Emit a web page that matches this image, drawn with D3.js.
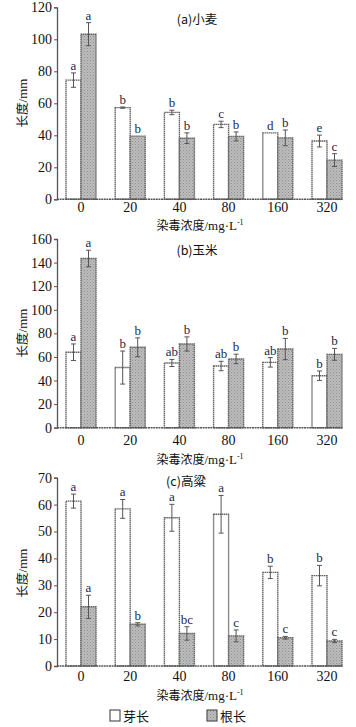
<!DOCTYPE html>
<html><head><meta charset="utf-8">
<script src="https://cdn.jsdelivr.net/npm/d3@7"></script>
<style>body{margin:0;background:#fff;}svg{display:block;}</style>
</head><body>
<script>
const categories = ["0","20","40","80","160","320"];
const seriesNames = ["芽长","根长"];
// Panel (a) 小麦
const wheatShoot = [74.5, 57.3, 54.3, 46.8, 41.5, 36.4];
const wheatShootErr = [4.5, 0.4, 1.4, 2.0, 0, 3.7];
const wheatRoot = [103.2, 39.5, 38.2, 39.3, 38.4, 24.5];
const wheatRootErr = [7.2, 0, 3.3, 2.8, 4.9, 4.0];
const wheatShootLbl = ["a","b","b","c","d","e"];
const wheatRootLbl = ["a","b","b","b","b","c"];
// Panel (b) 玉米
const maizeShoot = [64.0, 51.0, 54.9, 52.3, 55.4, 44.1];
const maizeShootErr = [7.0, 14.0, 3.0, 4.0, 4.0, 4.0];
const maizeRoot = [143.5, 68.2, 71.0, 58.3, 66.7, 62.2];
const maizeRootErr = [7.0, 8.0, 6.0, 4.0, 9.0, 5.0];
const maizeShootLbl = ["a","b","ab","ab","ab","b"];
const maizeRootLbl = ["a","b","b","b","b","b"];
// Panel (c) 高粱
const sorghumShoot = [61.3, 58.4, 55.1, 56.4, 34.8, 33.6];
const sorghumShootErr = [2.6, 3.5, 5.0, 7.0, 2.3, 3.8];
const sorghumRoot = [22.0, 15.5, 12.1, 11.2, 10.5, 9.3];
const sorghumRootErr = [4.3, 0.6, 2.5, 2.2, 0.5, 0.6];
const sorghumShootLbl = ["a","a","a","a","b","b"];
const sorghumRootLbl = ["a","b","bc","c","c","c"];
const yTicksA = [0,20,40,60,80,100,120];
const yTicksB = [0,20,40,60,80,100,120,140,160];
const yTicksC = [0,10,20,30,40,50,60,70];

const W = 356, H = 727;
const svg = d3.select("body").append("svg").attr("width", W).attr("height", H);
const defs = svg.append("defs");
const pat = defs.append("pattern").attr("id","stip").attr("width",3).attr("height",3).attr("patternUnits","userSpaceOnUse");
pat.append("rect").attr("width",3).attr("height",3).attr("fill","#bdbdbd");
pat.append("rect").attr("x",0).attr("y",0).attr("width",1).attr("height",1).attr("fill","#8f8f8f");
pat.append("rect").attr("x",1.5).attr("y",1.5).attr("width",1).attr("height",1).attr("fill","#999");

const serif = "'Liberation Serif','Times New Roman',serif";
const cjk = "'Noto Sans CJK SC',sans-serif";
const x = d3.scaleBand().domain(categories).range([56.4, 351.6]).paddingInner(0.39).paddingOuter(0.195);
const x1 = d3.scaleBand().domain(seriesNames).range([0, x.bandwidth()]);
const axisLeftX = 57, axisRightX = 343;

function panel(cfg){
  const g = svg.append("g");
  const y = d3.scaleLinear().domain([0, cfg.max]).range([cfg.y0, cfg.y1]);
  const series = [
    {name: seriesNames[0], v: cfg.shoot, e: cfg.shootErr, l: cfg.shootLbl, fill:"#fff"},
    {name: seriesNames[1], v: cfg.root, e: cfg.rootErr, l: cfg.rootLbl, fill:"url(#stip)"}
  ];
  series.forEach(s => {
    categories.forEach((c,i) => {
      const bx = x(c) + x1(s.name), bw = x1.bandwidth();
      g.append("rect").attr("x", bx).attr("y", y(s.v[i])).attr("width", bw)
        .attr("height", y(0) - y(s.v[i])).attr("fill", s.fill)
        .attr("stroke", "#666").attr("stroke-width", 1.4).attr("stroke-dasharray", "1.5,0.5");
      const cx = bx + bw/2;
      if (s.e[i] > 0) {
        const t = y(s.v[i] + s.e[i]), b = y(s.v[i] - s.e[i]);
        g.append("line").attr("x1",cx).attr("x2",cx).attr("y1",t).attr("y2",b).attr("stroke","#555").attr("stroke-width",1);
        [t,b].forEach(yy => g.append("line").attr("x1",cx-2.5).attr("x2",cx+2.5).attr("y1",yy).attr("y2",yy).attr("stroke","#555").attr("stroke-width",1));
      }
      g.append("text").attr("x", cx).attr("y", y(s.v[i] + s.e[i]) - 3)
        .attr("text-anchor","middle").attr("font-family", serif).attr("font-size", 13)
        .attr("fill","#1c2748").text(s.l[i]);
    });
  });
  const ya = d3.axisLeft(y).tickValues(cfg.ticks).tickSize(3).tickPadding(2);
  const yg = g.append("g").attr("transform", `translate(${axisLeftX},0)`).call(ya);
  yg.select(".domain").attr("stroke","#555").attr("stroke-width",1.3);
  yg.selectAll(".tick line").attr("stroke","#555");
  yg.selectAll(".tick text").attr("font-family", serif).attr("font-size", 14).attr("fill","#111");
  const xa = d3.axisBottom(x).tickSize(0).tickPadding(cfg.xPad);
  const xg = g.append("g").attr("transform", `translate(0,${cfg.y0})`).call(xa);
  xg.select(".domain").remove();
  xg.append("line").attr("x1", axisLeftX).attr("x2", axisRightX).attr("y1",0).attr("y2",0)
    .attr("stroke","#555").attr("stroke-width",1.5).attr("stroke-dasharray","2,0.6");
  xg.selectAll(".tick text").attr("font-family", serif).attr("font-size", 14).attr("fill","#111");
  g.append("text").attr("x", cfg.titleX).attr("y", cfg.titleY).attr("text-anchor","middle")
    .attr("font-family", cjk).attr("font-size", 12.5).attr("fill","#111")
    .text(cfg.title);
  const xt = g.append("text").attr("x", 200).attr("y", cfg.xTitleY).attr("text-anchor","middle")
    .attr("font-family", cjk).attr("font-size", 12).attr("fill","#111");
  xt.append("tspan").text("染毒浓度");
  xt.append("tspan").attr("font-family", serif).attr("font-size", 13).text("/mg·L");
  xt.append("tspan").attr("font-family", serif).attr("font-size", 8).attr("dy", -5).text("-1");
  const yt = g.append("text").attr("transform", `translate(27,${cfg.yTitleY}) rotate(-90)`)
    .attr("text-anchor","middle").attr("font-family", cjk).attr("font-size", 12.5).attr("fill","#111");
  yt.append("tspan").text("长度");
  yt.append("tspan").attr("font-family", serif).attr("font-size", 13).text("/mm");
}

panel({max:120, y0:199.3, y1:7.3, ticks:yTicksA, shoot:wheatShoot, shootErr:wheatShootErr, root:wheatRoot, rootErr:wheatRootErr,
  shootLbl:wheatShootLbl, rootLbl:wheatRootLbl, title:"(a)小麦", titleX:197, titleY:24, xTitleY:230, yTitleY:103, xPad:3});
panel({max:160, y0:427.7, y1:239, ticks:yTicksB, shoot:maizeShoot, shootErr:maizeShootErr, root:maizeRoot, rootErr:maizeRootErr,
  shootLbl:maizeShootLbl, rootLbl:maizeRootLbl, title:"(b)玉米", titleX:197, titleY:255, xTitleY:464, yTitleY:333, xPad:7});
panel({max:70, y0:666, y1:477.7, ticks:yTicksC, shoot:sorghumShoot, shootErr:sorghumShootErr, root:sorghumRoot, rootErr:sorghumRootErr,
  shootLbl:sorghumShootLbl, rootLbl:sorghumRootLbl, title:"(c)高粱", titleX:186, titleY:486, xTitleY:700, yTitleY:573, xPad:5});

const legend = svg.append("g");
const legItems = [{name: seriesNames[0], fill:"#fff", x:110}, {name: seriesNames[1], fill:"url(#stip)", x:207}];
legItems.forEach(it => {
  legend.append("rect").attr("x", it.x).attr("y", 710).attr("width", 10).attr("height", 11)
    .attr("fill", it.fill).attr("stroke","#555").attr("stroke-width",1.2);
  legend.append("text").attr("x", it.x + 13).attr("y", 720.5).attr("font-family", cjk).attr("font-size", 13)
    .attr("fill","#111").text(it.name);
});
</script>
</body></html>
